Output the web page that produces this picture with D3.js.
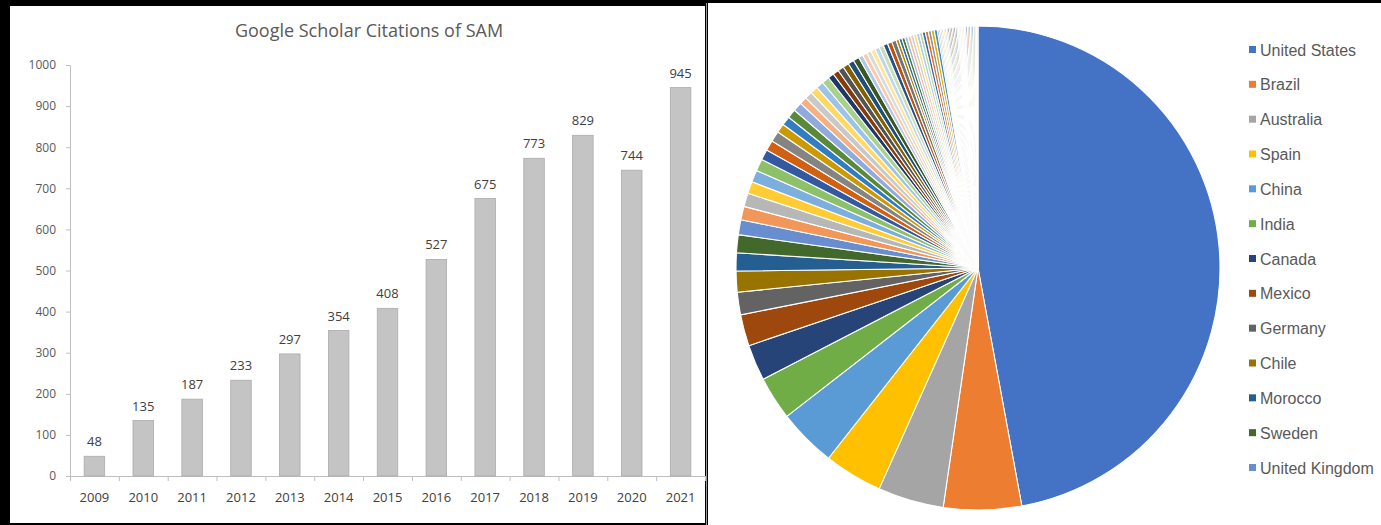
<!DOCTYPE html>
<html><head><meta charset="utf-8">
<script src="https://cdn.jsdelivr.net/npm/d3@7/dist/d3.min.js"></script>
<style>html,body{margin:0;padding:0;background:#000;overflow:hidden}</style>
</head><body>
<svg id="c" width="1381" height="525"></svg>
<script>
// ---- Data ----
const years = ["2009","2010","2011","2012","2013","2014","2015","2016","2017","2018","2019","2020","2021"];
const citations = [48,135,187,233,297,354,408,527,675,773,829,744,945];
const yTicks = [0,100,200,300,400,500,600,700,800,900,1000];
const chartTitle = "Google Scholar Citations of SAM";

const countries = ["United States","Brazil","Australia","Spain","China","India","Canada","Mexico","Germany","Chile","Morocco","Sweden","United Kingdom",
 "Italy","France","Portugal","Iran","Turkey","South Africa","Colombia","Argentina","Netherlands","New Zealand","Japan","South Korea","Switzerland",
 "Austria","Greece","Israel","Egypt","Saudi Arabia","Pakistan","Indonesia","Malaysia","Thailand","Vietnam","Nigeria","Kenya","Ethiopia","Tunisia",
 "Algeria","Peru","Ecuador","Uruguay","Venezuela","Cuba","Costa Rica","Poland","Czech Republic","Hungary","Romania","Belgium","Denmark","Norway",
 "Finland","Ireland","Russia","Ukraine","Taiwan","Singapore","Philippines","Bangladesh","Sri Lanka","Nepal","Jordan","Lebanon","Qatar",
 "United Arab Emirates","Oman","Kuwait","Iraq","Ghana","Senegal","Cameroon","Tanzania","Uganda","Zimbabwe","Botswana","Namibia","Mozambique",
 "Bolivia","Paraguay","Guatemala","Honduras","Panama","Iceland"];
const countryShare = [471,52,44,39,39,29,24,21,15,14,12,12,10,
 9,9,8,8,8,7,7,7,6,6,6,6,5,5,5,5,5,4,4,4,4,4,4,3,3,3,3,3,3,3,3,3,
 2,2,2,2,2,2,2,2,2,2,2,2,2,2,
 1,1,1,1,1,1,1,1,1,1,1,1,1,1,1,1,1,1,1,1,1,1,1,1,1,1,1];
const legendCount = 13;

// ---- Layout ----
const svg = d3.select("#c");
svg.append("rect").attr("x",10).attr("y",6).attr("width",695).attr("height",517).attr("fill","#fff");
svg.append("rect").attr("x",708).attr("y",3).attr("width",673).attr("height",522).attr("fill","#fff");
svg.append("line").attr("x1",706.5).attr("x2",706.5).attr("y1",3).attr("y2",525).attr("stroke","#9a9a9a").attr("stroke-width",1);

// ---- Bar chart ----
const x = d3.scaleBand().domain(years).range([70,705]).paddingInner(0.58).paddingOuter(0.29);
const y = d3.scaleLinear().domain([0,1000]).range([476,65]);
const g = svg.append("g");
const fnt = "'Open Sans','Noto Sans',sans-serif";

g.append("text").attr("x",369).attr("y",37).attr("text-anchor","middle")
 .attr("font-family",fnt).attr("font-size",18).attr("fill","#595959").text(chartTitle);

const yAxis = g.append("g").attr("transform","translate(70,0)")
 .call(d3.axisLeft(y).tickValues(yTicks).tickSize(4).tickPadding(10).tickFormat(d3.format("d")));
yAxis.select(".domain").attr("stroke","#bfbfbf");
yAxis.selectAll(".tick line").attr("stroke","#bfbfbf");
yAxis.selectAll("text").attr("font-family",fnt).attr("font-size",12).attr("fill","#595959");

// x axis
const xa = g.append("g");
xa.append("line").attr("x1",70).attr("x2",705).attr("y1",y(0)+0.5).attr("y2",y(0)+0.5).attr("stroke","#bfbfbf");
const step = x.step();
const x0 = x.range()[0];
xa.selectAll(".xt").data(d3.range(years.length+1)).join("line")
 .attr("x1",i=>x0+i*step+0.5).attr("x2",i=>x0+i*step+0.5)
 .attr("y1",y(0)).attr("y2",y(0)+5).attr("stroke","#bfbfbf");
xa.selectAll(".xl").data(years).join("text")
 .attr("x",d=>x(d)+x.bandwidth()/2).attr("y",502).attr("text-anchor","middle")
 .attr("font-family",fnt).attr("font-size",13).attr("fill","#404040").text(d=>d);

g.selectAll(".bar").data(citations).join("rect")
 .attr("x",(d,i)=>x(years[i])).attr("width",x.bandwidth())
 .attr("y",d=>y(d)).attr("height",d=>y(0)-y(d))
 .attr("fill","#c4c4c4").attr("stroke","#ababab").attr("stroke-width",0.8);
g.selectAll(".vl").data(citations).join("text")
 .attr("x",(d,i)=>x(years[i])+x.bandwidth()/2).attr("y",d=>y(d)-10)
 .attr("text-anchor","middle").attr("font-family",fnt).attr("font-size",13).attr("fill","#404040").text(d=>d);

// ---- Pie chart ----
const base = ["#4472C4","#ED7D31","#A5A5A5","#FFC000","#5B9BD5","#70AD47"];
const variants = [["s",1],["s",0.6],["t",0.2],["s",0.8],["t",0.4],["s",0.5],["t",0.6],["s",0.7],["t",0.5],["s",0.9],["t",0.3],["s",0.45],["t",0.7],["s",0.75],["t",0.8]];
function colorFor(i){
  const b = d3.hsl(base[i%6]); const v = variants[Math.floor(i/6)%variants.length];
  if(v[0]==="s") b.l = b.l*v[1]; else b.l = b.l + (1-b.l)*v[1];
  return b.formatHex();
}
const pieData = d3.pie().sort(null).value(d=>d)(countryShare);
const arc = d3.arc().innerRadius(0).outerRadius(242);
svg.append("g").attr("transform","translate(978,268)")
 .selectAll("path").data(pieData).join("path")
 .attr("d",arc).attr("fill",(d,i)=>colorFor(i)).attr("stroke","#fff").attr("stroke-width",1.1).attr("stroke-linejoin","round");

// legend
const lg = svg.append("g");
const ly = d3.scaleLinear().domain([0,legendCount-1]).range([50,468]);
const items = lg.selectAll("g").data(countries.slice(0,legendCount)).join("g")
 .attr("transform",(d,i)=>`translate(1249,${ly(i)})`);
items.append("rect").attr("x",0).attr("y",-4).attr("width",7).attr("height",7).attr("fill",(d,i)=>colorFor(i));
items.append("text").attr("x",11).attr("y",5.5).attr("font-family","'Liberation Sans',Arial,sans-serif")
 .attr("font-size",16).attr("fill","#595959").text(d=>d);
</script>
</body></html>
